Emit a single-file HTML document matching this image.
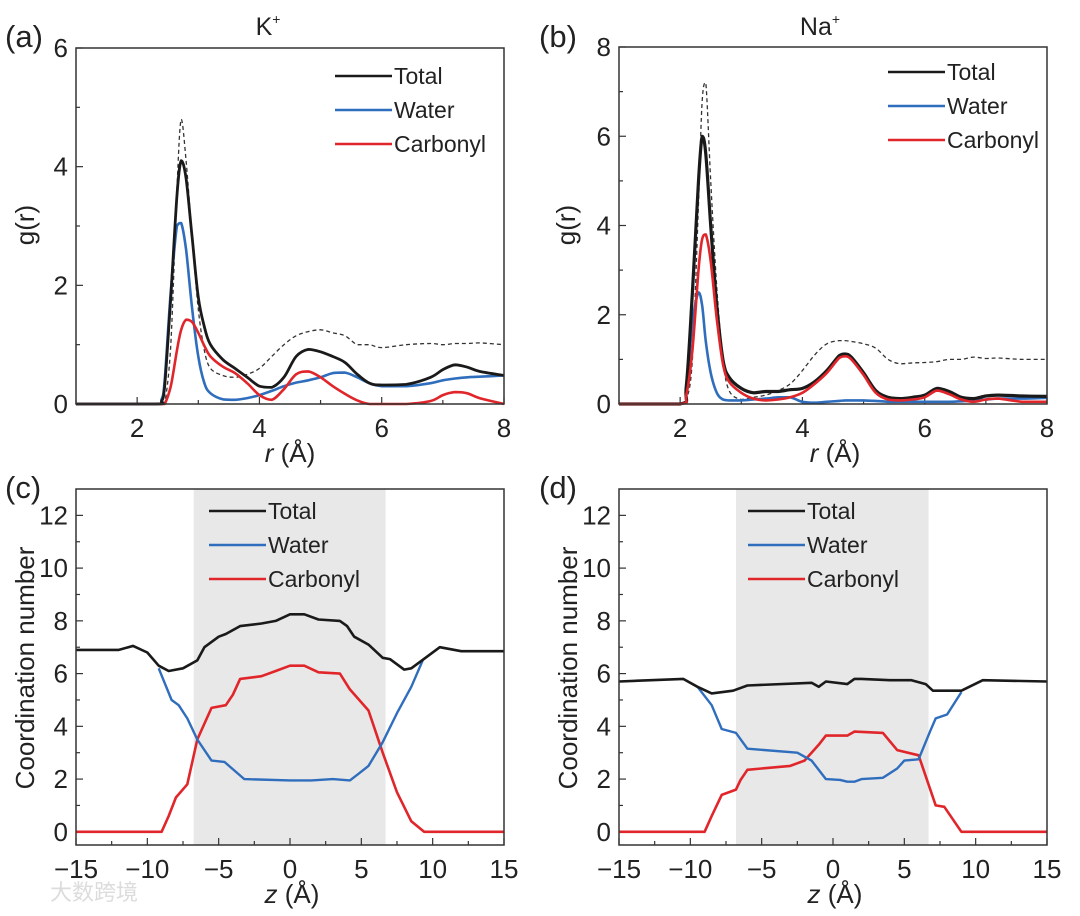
<!DOCTYPE html>
<html><head><meta charset="utf-8"><style>
html,body{margin:0;padding:0;background:#fff;}
svg{display:block;font-family:"Liberation Sans","Noto Sans CJK SC",sans-serif;}
</style></head><body>
<svg id="fig" width="1080" height="916" viewBox="0 0 1080 916" xmlns="http://www.w3.org/2000/svg"></svg>
<script>
// ---- Panel (a) K+ RDF data ----
const aR = [1,2.3,2.4,2.45,2.55,2.65,2.72,2.8,2.9,3.0,3.1,3.2,3.4,3.6,3.8,4.0,4.2,4.4,4.6,4.8,5.0,5.2,5.4,5.6,5.8,6.0,6.4,6.8,7.0,7.2,7.4,7.6,8.0];
const aTotal = [0,0,0.05,0.3,1.8,3.5,4.1,3.8,2.8,1.8,1.3,1.0,0.75,0.6,0.45,0.3,0.28,0.45,0.8,0.92,0.88,0.8,0.7,0.5,0.35,0.32,0.33,0.45,0.58,0.66,0.62,0.55,0.48];
const aWater = [0,0,0.08,0.4,1.9,3.0,3.05,2.6,1.6,0.8,0.35,0.18,0.08,0.07,0.1,0.15,0.22,0.3,0.36,0.4,0.45,0.52,0.53,0.45,0.35,0.3,0.3,0.35,0.4,0.43,0.45,0.46,0.48];
const aCarb = [0,0,0,0,0.3,0.9,1.25,1.42,1.38,1.2,0.98,0.8,0.63,0.52,0.35,0.15,0.07,0.25,0.5,0.55,0.45,0.3,0.17,0.06,0,0,0,0.05,0.15,0.2,0.18,0.1,0];
const aBulk = [0,0,0,0,1.0,3.6,4.8,4.1,2.8,1.6,0.9,0.6,0.48,0.45,0.5,0.6,0.8,1.0,1.15,1.22,1.25,1.2,1.15,1.0,1.0,0.95,1.0,1.02,1.0,1.02,1.02,1.03,1.0];
// ---- Panel (b) Na+ RDF data ----
const bR = [1,2.0,2.1,2.2,2.3,2.36,2.42,2.5,2.6,2.7,2.8,3.0,3.2,3.4,3.6,3.8,4.0,4.2,4.4,4.6,4.7,4.8,5.0,5.2,5.4,5.6,5.8,6.0,6.2,6.4,6.6,6.8,7.0,7.2,7.6,8.0];
const bTotal = [0,0,0.4,2.5,5.0,6.0,5.6,4.0,2.2,1.0,0.6,0.35,0.25,0.28,0.28,0.32,0.35,0.5,0.75,1.08,1.12,1.05,0.7,0.3,0.15,0.12,0.15,0.2,0.35,0.28,0.15,0.12,0.18,0.2,0.18,0.17];
const bCarb = [0,0,0.2,1.2,3.0,3.7,3.8,3.2,1.9,0.9,0.5,0.25,0.12,0.08,0.1,0.15,0.25,0.45,0.7,1.03,1.07,1.0,0.65,0.25,0.1,0.08,0.1,0.15,0.3,0.22,0.1,0.05,0.1,0.12,0.05,0.05];
const bWater = [0,0,0.3,1.8,2.5,2.2,1.4,0.7,0.25,0.1,0.08,0.08,0.1,0.12,0.15,0.15,0.05,0.03,0.05,0.07,0.08,0.08,0.08,0.07,0.05,0.05,0.05,0.05,0.05,0.05,0.06,0.08,0.1,0.12,0.12,0.14];
const bBulk = [0,0,0.1,1.0,4.5,6.8,7.2,5.0,2.6,1.0,0.3,0.1,0.15,0.2,0.3,0.45,0.75,1.1,1.35,1.42,1.42,1.4,1.35,1.25,1.0,0.9,0.92,0.93,0.95,1.0,1.0,1.05,1.02,1.03,1.0,1.0];
// ---- Panel (c) K+ coordination ----
const cTotalZ = [-15,-12,-11,-10,-9.2,-8.5,-7.5,-6.5,-6,-5,-4.5,-3.5,-2,-1,0,1,2,3.5,4,4.5,5.5,6.5,7,8,8.5,9.5,10.5,12,15];
const cTotal = [6.9,6.9,7.05,6.8,6.3,6.1,6.2,6.5,7.0,7.4,7.5,7.8,7.9,8.0,8.25,8.25,8.05,8.0,7.8,7.4,7.1,6.6,6.55,6.15,6.2,6.6,7.0,6.85,6.85];
const cWaterZ = [-9.2,-8.3,-7.8,-7.2,-6.5,-5.5,-4.6,-3.2,0,1.5,3,4.2,4.8,5.5,6.5,7.5,8.5,9.3];
const cWater = [6.2,5.0,4.8,4.3,3.5,2.7,2.65,2.0,1.95,1.95,2.0,1.95,2.2,2.5,3.4,4.5,5.5,6.5];
const cCarbZ = [-15,-9,-8.5,-8,-7.2,-6.5,-5.5,-4.5,-4,-3.5,-2,-1,0,1,2,3.5,4.2,5.5,6.5,7.5,8.5,9.4,15];
const cCarb = [0,0,0.6,1.3,1.8,3.5,4.7,4.8,5.2,5.8,5.9,6.1,6.3,6.3,6.05,6.0,5.4,4.6,3.0,1.5,0.4,0,0];
// ---- Panel (d) Na+ coordination ----
const dTotalZ = [-15,-10.5,-9.5,-8.5,-7,-6,-1.5,-1,-0.5,1,1.5,2,4,5.5,6.5,7,9,10.5,15];
const dTotal = [5.7,5.8,5.5,5.25,5.35,5.55,5.65,5.5,5.7,5.6,5.8,5.8,5.75,5.75,5.6,5.35,5.35,5.75,5.7];
const dWaterZ = [-9.5,-8.5,-7.8,-6.8,-6,-2.5,-1.5,-0.5,0.5,1,1.5,2,3.5,4.5,5,6,6.8,7.2,8,9];
const dWater = [5.5,4.8,3.9,3.75,3.15,3.0,2.7,2.0,1.97,1.9,1.9,2.0,2.05,2.4,2.7,2.75,3.8,4.3,4.45,5.3];
const dCarbZ = [-15,-9,-8.5,-7.8,-6.8,-6.5,-6,-3,-2,-1,-0.5,1,1.5,3.5,4.5,6,7.2,7.8,9,15];
const dCarb = [0,0,0.6,1.4,1.6,1.95,2.35,2.5,2.7,3.3,3.65,3.65,3.8,3.75,3.1,2.9,1.0,0.95,0,0];
const rTicks = [2,4,6,8];
const zTicks = [-15,-10,-5,0,5,10,15];
const cnTicks = [0,2,4,6,8,10,12];

const NS='http://www.w3.org/2000/svg';
const svg=document.getElementById('fig');
function el(tag,attrs,parent){const e=document.createElementNS(NS,tag);for(const k in attrs)e.setAttribute(k,attrs[k]);(parent||svg).appendChild(e);return e;}
function txt(s,attrs,parent){const e=el('text',attrs,parent);e.textContent=s;return e;}
const BLACK='#1a1a1a',BLUE='#2f6dbd',RED='#e0262b';
const TF=26;

function makePanel(box,xr,yr){
  const [l,t,r,b]=box;
  return {box,x:v=>l+(v-xr[0])/(xr[1]-xr[0])*(r-l),y:v=>b-(v-yr[0])/(yr[1]-yr[0])*(b-t)};
}
function clamp(v,a,b){const lo=Math.min(a,b),hi=Math.max(a,b);return Math.max(lo,Math.min(hi,v));}
function smoothPath(P,xs,ys){
  const pts=xs.map((x,i)=>[P.x(x),P.y(ys[i])]);
  let d='M'+pts[0][0].toFixed(1)+','+pts[0][1].toFixed(1);
  for(let i=0;i<pts.length-1;i++){
    const p0=pts[Math.max(0,i-1)],p1=pts[i],p2=pts[i+1],p3=pts[Math.min(pts.length-1,i+2)];
    const c1=[p1[0]+(p2[0]-p0[0])/6,clamp(p1[1]+(p2[1]-p0[1])/6,p1[1],p2[1]+(p1[1]-p2[1])*0+ (p2[1]))];
    const c2=[p2[0]-(p3[0]-p1[0])/6,clamp(p2[1]-(p3[1]-p1[1])/6,p1[1],p2[1])];
    c1[1]=clamp(p1[1]+(p2[1]-p0[1])/6,p1[1],p2[1]);
    d+=' C'+c1[0].toFixed(1)+','+c1[1].toFixed(1)+' '+c2[0].toFixed(1)+','+c2[1].toFixed(1)+' '+p2[0].toFixed(1)+','+p2[1].toFixed(1);
  }
  return d;
}
function linePath(P,xs,ys){return xs.map((x,i)=>(i?'L':'M')+P.x(x).toFixed(1)+','+P.y(ys[i]).toFixed(1)).join(' ');}

function axes(P,g,xt,xminor,yt,yminor){
  const [l,t,r,b]=P.box;
  xminor.forEach(v=>el('line',{x1:P.x(v),x2:P.x(v),y1:b,y2:b-4,stroke:'#333','stroke-width':1.2},g));
  yminor.forEach(v=>el('line',{x1:l,x2:l+4,y1:P.y(v),y2:P.y(v),stroke:'#333','stroke-width':1.2},g));
  xt.forEach(v=>{el('line',{x1:P.x(v),x2:P.x(v),y1:b,y2:b-7,stroke:'#333','stroke-width':1.2},g);
    const tt=txt(String(v).replace('-','\u2212'),{x:P.x(v),y:b+33,'font-size':TF,'text-anchor':'middle',fill:'#222'},g);
    
    });
  yt.forEach(v=>{el('line',{x1:l,x2:l+7,y1:P.y(v),y2:P.y(v),stroke:'#333','stroke-width':1.2},g);
    const tt=txt(String(v),{x:l-8,y:P.y(v)+9,'font-size':TF,'text-anchor':'end',fill:'#222'},g);
    
    });
}
function frame(P,g){const [l,t,r,b]=P.box;
  const f=el('rect',{x:l,y:t,width:r-l,height:b-t,fill:'none',stroke:'#333','stroke-width':1.5},g);
  
  }
function legend(g,x,y0,dy){
  [['Total',BLACK],['Water',BLUE],['Carbonyl',RED]].forEach((e,i)=>{
    const lg=el('g',{},g);
    
    
    el('line',{x1:x,x2:x+57,y1:y0+i*dy,y2:y0+i*dy,stroke:e[1],'stroke-width':2.6},lg);
    txt(e[0],{x:x+59,y:y0+i*dy+8,'font-size':23,fill:'#222'},lg);
  });
}
function series(g,d,color,w,name,dash){
  const p=el('path',{d:d,fill:'none',stroke:color,'stroke-width':w,'stroke-linejoin':'round'},g);
  if(dash)p.setAttribute('stroke-dasharray',dash);
  
  
}

// Panel a
(function(){
  const g=el('g',{});
  const P=makePanel([76,48,504,404],[1,8],[0,6]);
  axes(P,g,rTicks,[1,3,5,7],[0,2,4,6],[1,3,5]);
  series(g,smoothPath(P,aR,aBulk),'#333',1.3,'bulk-dashed-line','4,3');
  series(g,smoothPath(P,aR,aWater),BLUE,2.6,'water-line');
  series(g,smoothPath(P,aR,aCarb),RED,2.6,'carbonyl-line');
  series(g,smoothPath(P,aR,aTotal),BLACK,2.8,'total-line');
  frame(P,g);
  legend(g,335,76,34);
  const lb=txt('(a)',{x:5,y:47,'font-size':31,fill:'#222'},g);
  const ti=el('text',{x:268,y:35,'font-size':25,'text-anchor':'middle',fill:'#222'},g);ti.innerHTML='K<tspan font-size="14" dy="-11">+</tspan>';
  
  const yl=txt('g(r)',{x:0,y:0,'font-size':26,'text-anchor':'middle',fill:'#222',transform:'translate(34,225) rotate(-90)'},g);
  const xl=el('text',{x:290,y:462,'font-size':26,'text-anchor':'middle',fill:'#222'},g);xl.innerHTML='<tspan font-style="italic">r</tspan> (Å)';
  
})();
// Panel b
(function(){
  const g=el('g',{});
  const P=makePanel([619,47,1047,404],[1,8],[0,8]);
  axes(P,g,rTicks,[1,3,5,7],[0,2,4,6,8],[1,3,5,7]);
  series(g,smoothPath(P,bR,bBulk),'#333',1.3,'bulk-dashed-line','4,3');
  series(g,smoothPath(P,bR,bWater),BLUE,2.6,'water-line');
  series(g,smoothPath(P,bR,bTotal),BLACK,3.2,'total-line');
  series(g,smoothPath(P,bR,bCarb),RED,2.6,'carbonyl-line');
  frame(P,g);
  legend(g,888,72,34);
  const lb=txt('(b)',{x:539,y:47,'font-size':31,fill:'#222'},g);
  const ti=el('text',{x:820,y:35,'font-size':25,'text-anchor':'middle',fill:'#222'},g);ti.innerHTML='Na<tspan font-size="14" dy="-11">+</tspan>';
  
  const yl=txt('g(r)',{x:0,y:0,'font-size':26,'text-anchor':'middle',fill:'#222',transform:'translate(575,225) rotate(-90)'},g);
  const xl=el('text',{x:835,y:462,'font-size':26,'text-anchor':'middle',fill:'#222'},g);xl.innerHTML='<tspan font-style="italic">r</tspan> (Å)';
  
})();
function cnPanel(box,lab,lx,totZ,tot,wZ,w,cZ,c,shade,legX,ylx,name){
  const g=el('g',{});
  const P=makePanel(box,[-15,15],[-0.5,13]);
  const sh=el('rect',{x:P.x(shade[0]),y:box[1],width:P.x(shade[1])-P.x(shade[0]),height:box[3]-box[1],fill:'#e8e8e8'},g);
  
  axes(P,g,zTicks,[-12.5,-7.5,-2.5,2.5,7.5,12.5],cnTicks,[1,3,5,7,9,11]);
  series(g,linePath(P,cZ,c),RED,2.6,'carbonyl-line');
  series(g,linePath(P,wZ,w),BLUE,2.4,'water-line');
  series(g,linePath(P,totZ,tot),BLACK,2.6,'total-line');
  frame(P,g);
  legend(g,legX,511,34);
  const lb=txt(lab,{x:lx,y:498,'font-size':31,fill:'#222'},g);
  const yl=txt('Coordination number',{x:0,y:0,'font-size':26,'text-anchor':'middle',fill:'#222',transform:'translate('+ylx+',668) rotate(-90)'},g);
  const xl=el('text',{x:(box[0]+box[2])/2+2,y:903,'font-size':26,'text-anchor':'middle',fill:'#222'},g);xl.innerHTML='<tspan font-style="italic">z</tspan> (Å)';
  
}
cnPanel([76,489,504,845],'(c)',5,cTotalZ,cTotal,cWaterZ,cWater,cCarbZ,cCarb,[-6.75,6.7],209,34,'panel-c');
cnPanel([619,489,1047,845],'(d)',539,dTotalZ,dTotal,dWaterZ,dWater,dCarbZ,dCarb,[-6.8,6.7],748,577,'panel-d');
const wm=txt('大数跨境',{x:50,y:900,'font-size':22,fill:'#dcdcdc'});


</script>
</body></html>
